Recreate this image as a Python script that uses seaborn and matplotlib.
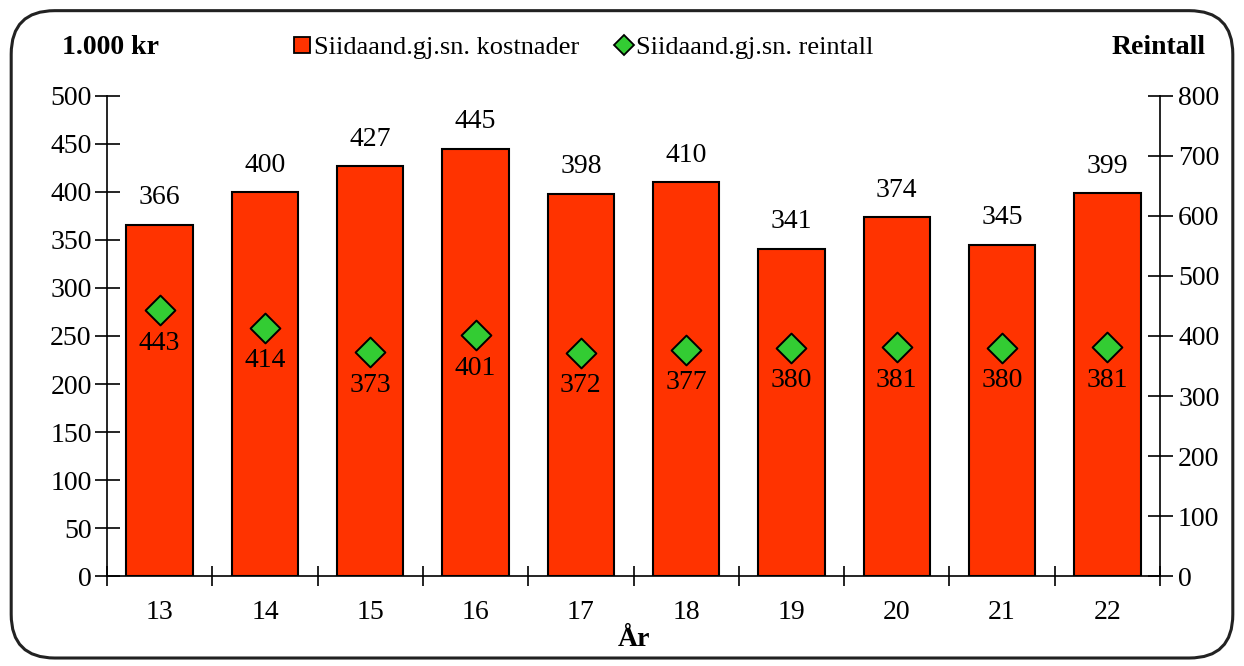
import matplotlib
matplotlib.use("Agg")
import matplotlib.pyplot as plt
from matplotlib.lines import Line2D
from matplotlib.patches import FancyBboxPatch
import pandas as pd
import seaborn as sns

years = ["13", "14", "15", "16", "17", "18", "19", "20", "21", "22"]
kostnader = [366, 400, 427, 445, 398, 410, 341, 374, 345, 399]
reintall = [443, 414, 373, 401, 372, 377, 380, 381, 380, 381]

BAR_COLOR = "#FF3300"
DIAMOND_COLOR = "#33CC33"
FS = 20

sns.set_style("white")
plt.rcParams["font.family"] = ["Liberation Serif", "DejaVu Serif"]
plt.rcParams["font.size"] = FS
for key in ("text.color", "axes.labelcolor", "xtick.color", "ytick.color"):
    plt.rcParams[key] = "black"

df = pd.DataFrame({"year": years, "kostnader": kostnader, "reintall": reintall})
df["pos"] = range(len(df))

fig = plt.figure(figsize=(12.44, 6.66), dpi=100)
ax = fig.add_axes([0.086, 0.1351, 0.8465, 0.7208])

sns.barplot(data=df, x="year", y="kostnader", ax=ax, color=BAR_COLOR,
            saturation=1, width=0.63, edgecolor="black", linewidth=1.5)
for p, v in zip(ax.patches, kostnader):
    ax.text(p.get_x() + p.get_width() / 2, v + 15, str(v), ha="center",
            va="bottom", fontsize=FS)

ax.set_ylim(0, 500)
ax.set_xlim(-0.5, len(years) - 0.5)
ax.set_yticks(range(0, 501, 50))
ax.set_xlabel("År", fontsize=FS, fontweight="bold", labelpad=2)
ax.set_ylabel("")

ax2 = ax.twinx()
sns.scatterplot(data=df, x="pos", y="reintall", ax=ax2, marker="D", s=230,
                color=DIAMOND_COLOR, edgecolor="black", linewidth=1.4,
                zorder=5, legend=False)
for i, v in enumerate(reintall):
    ax2.text(i, v - 34, str(v), ha="center", va="top", fontsize=FS)
ax2.set_ylim(0, 800)
ax2.set_yticks(range(0, 801, 100))
ax2.set_xlim(-0.5, len(years) - 0.5)
ax2.set_ylabel("")
ax2.set_xlabel("")

for a in (ax, ax2):
    a.spines["top"].set_visible(False)
    for s in a.spines.values():
        s.set_color("black")
        s.set_linewidth(1.2)
ax.spines["right"].set_visible(False)
ax2.spines["left"].set_visible(False)
ax2.spines["bottom"].set_visible(False)

ax.tick_params(axis="y", direction="inout", length=18, width=1.2,
               labelsize=FS, pad=2, left=True)
ax2.tick_params(axis="y", direction="inout", length=18, width=1.2,
                labelsize=FS, pad=4, right=True)

# category labels centred, ticks between categories
ax.set_xticks(range(len(years)))
ax.set_xticklabels(years)
ax.tick_params(axis="x", which="major", length=0, labelsize=FS, pad=17)
ax.set_xticks([i - 0.5 for i in range(len(years) + 1)], minor=True)
ax.tick_params(axis="x", which="minor", direction="inout", length=14,
               width=1.2, bottom=True)

fig.text(0.05, 0.929, "1.000 kr", fontsize=FS, fontweight="bold",
         ha="left", va="center")
fig.text(0.969, 0.929, "Reintall", fontsize=FS, fontweight="bold",
         ha="right", va="center")

handles = [
    Line2D([], [], marker="s", linestyle="none", markersize=11,
           markerfacecolor=BAR_COLOR, markeredgecolor="black", markeredgewidth=1.3),
    Line2D([], [], marker="D", linestyle="none", markersize=10,
           markerfacecolor=DIAMOND_COLOR, markeredgecolor="black", markeredgewidth=1.3),
]
fig.legend(handles, ["Siidaand.gj.sn. kostnader", "Siidaand.gj.sn. reintall"],
           loc="center", bbox_to_anchor=(0.468, 0.929), ncol=2, frameon=False,
           fontsize=19, handletextpad=0.05, columnspacing=1.3, handlelength=0.8)

border = FancyBboxPatch((0.009, 0.012), 0.982, 0.972,
                        boxstyle="round,pad=0,rounding_size=0.035",
                        transform=fig.transFigure, facecolor="none",
                        edgecolor="#222222", linewidth=2.2, mutation_aspect=1.87)
fig.patches.append(border)

fig.savefig("out.png", dpi=100)
